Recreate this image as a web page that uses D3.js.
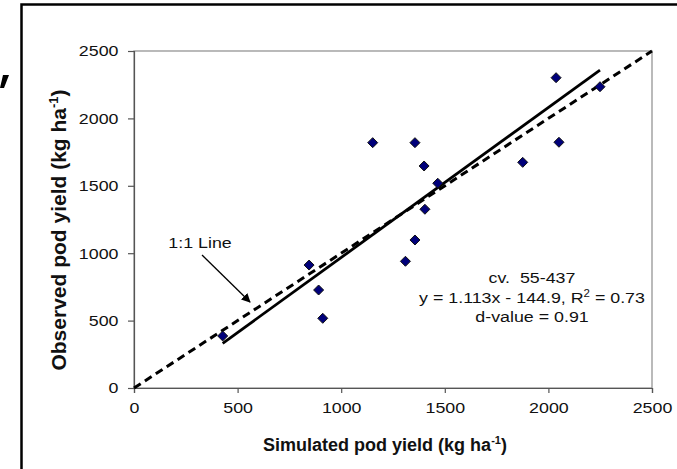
<!DOCTYPE html>
<meta charset="utf-8">
<script src="https://d3js.org/d3.v7.min.js"></script>
<style>
  body { margin: 0; background: #fff; }
  text { font-family: "Liberation Sans", Arial, sans-serif; white-space: pre; }
</style>
<div id="page"></div>
<script>

  // Data (simulated vs observed pod yield, kg/ha)
  var simulated = [428, 845, 891, 911, 1152, 1310, 1356, 1356, 1400, 1404, 1466, 1876, 2037, 2051, 2249];
  var observed  = [386, 912, 727, 517, 1820, 940, 1820, 1098, 1647, 1326, 1519, 1674, 2302, 1823, 2235];
  var tickValues = [0, 500, 1000, 1500, 2000, 2500];
  var slope = 1.113, intercept = -144.9;
  var fitRange = [428, 2249];
  var oneToOne = [0, 2500];

  var W = 677, H = 469;
  var margin = { top: 51, right: 25, bottom: 81, left: 134 };
  var stretch = 1.15;   // the picture's text is a bit wide

  var svg = d3.select("#page").append("svg")
    .attr("width", W)
    .attr("height", H);

  // outer frame (only top and left edges show)
  svg.append("path")
    .attr("d", "M21.5," + H + "V4.5H" + W)
    .attr("fill", "none")
    .attr("stroke", "#000")
    .attr("stroke-width", 2.5);

  // clipped glyph bit at the left edge
  svg.append("path")
    .attr("d", "M3,75 L9,75 L4,88 L0,88 Z")
    .attr("fill", "#000");

  var x = d3.scaleLinear().domain([0, 2500]).range([margin.left, W - margin.right]);
  var y = d3.scaleLinear().domain([0, 2500]).range([H - margin.bottom, margin.top]);

  // plot box
  svg.append("rect")
    .attr("x", x(0)).attr("y", y(2500))
    .attr("width", x(2500) - x(0))
    .attr("height", y(0) - y(2500))
    .attr("fill", "none")
    .attr("stroke", "#8c8c8c")
    .attr("stroke-width", 1.2);

  // axes
  var xAxis = svg.append("g")
    .attr("transform", "translate(0," + y(0) + ")")
    .call(d3.axisBottom(x).tickValues(tickValues).tickFormat(d3.format("d"))
      .tickSizeOuter(0).tickSize(5).tickPadding(9));
  var yAxis = svg.append("g")
    .attr("transform", "translate(" + x(0) + ",0)")
    .call(d3.axisLeft(y).tickValues(tickValues).tickFormat(d3.format("d"))
      .tickSizeOuter(0).tickSize(6).tickPadding(7.5));

  [xAxis, yAxis].forEach(function (g) {
    g.select(".domain").attr("stroke", "#555").attr("stroke-width", 1.2);
    g.selectAll(".tick line").attr("stroke", "#555").attr("stroke-width", 1.2);
    g.selectAll(".tick text")
      .attr("font-size", 15.5)
      .attr("font-family", "Liberation Sans, Arial, sans-serif")
      .attr("fill", "#111")
      .attr("transform", "scale(" + stretch + ",1)");
  });

  // 1:1 line
  svg.append("line")
    .attr("x1", x(oneToOne[0])).attr("y1", y(oneToOne[0]))
    .attr("x2", x(oneToOne[1])).attr("y2", y(oneToOne[1]))
    .attr("stroke", "#000")
    .attr("stroke-width", 3)
    .attr("stroke-dasharray", "8,5");

  // regression line
  svg.append("line")
    .attr("x1", x(fitRange[0])).attr("y1", y(slope * fitRange[0] + intercept))
    .attr("x2", x(fitRange[1])).attr("y2", y(slope * fitRange[1] + intercept))
    .attr("stroke", "#000")
    .attr("stroke-width", 2.8);

  // points
  var pts = simulated.map(function (s, i) { return { s: s, o: observed[i] }; });
  svg.selectAll("path.pt")
    .data(pts)
    .enter()
    .append("path")
    .attr("class", "pt")
    .attr("d", "M0,-5L5,0L0,5L-5,0Z")
    .attr("transform", function (d) { return "translate(" + x(d.s) + "," + y(d.o) + ")"; })
    .attr("fill", "#00007a")
    .attr("stroke", "#111")
    .attr("stroke-width", 1);

  // helper: stretched label centred at (cx, baseline)
  function label(cx, by, size) {
    return svg.append("g")
      .attr("transform", "translate(" + cx + "," + by + ") scale(" + stretch + ",1)")
      .append("text")
      .attr("text-anchor", "middle")
      .attr("font-size", size)
      .attr("fill", "#111");
  }

  // 1:1 label with arrow
  svg.append("defs").append("marker")
    .attr("id", "arrow")
    .attr("viewBox", "0 0 10 10")
    .attr("refX", 9).attr("refY", 5)
    .attr("markerWidth", 7).attr("markerHeight", 7)
    .attr("orient", "auto")
    .append("path")
    .attr("d", "M0,0L10,5L0,10Z")
    .attr("fill", "#000");

  label(200, 248, 15.5).text("1:1 Line");
  svg.append("line")
    .attr("x1", 202).attr("y1", 255)
    .attr("x2", 250).attr("y2", 302)
    .attr("stroke", "#000")
    .attr("stroke-width", 1.3)
    .attr("marker-end", "url(#arrow)");

  // equation box
  label(532, 283, 15.5).text("cv.  55-437");
  var l2 = label(532, 303, 15.5);
  l2.append("tspan").text("y = 1.113x - 144.9, R");
  l2.append("tspan").attr("font-size", 10).attr("dy", -6).text("2");
  l2.append("tspan").attr("dy", 6).text(" = 0.73");
  label(532, 322, 15.5).text("d-value = 0.91");

  // axis titles
  var xt = svg.append("text")
    .attr("x", 385).attr("y", 451)
    .attr("text-anchor", "middle")
    .attr("font-size", 18)
    .attr("font-weight", "bold")
    .attr("fill", "#111");
  xt.append("tspan").text("Simulated pod yield (kg ha");
  xt.append("tspan").attr("font-size", 11).attr("dy", -7).text("-1");
  xt.append("tspan").attr("dy", 7).text(")");

  var yt = svg.append("text")
    .attr("transform", "translate(66,230) rotate(-90)")
    .attr("text-anchor", "middle")
    .attr("font-size", 21)
    .attr("font-weight", "bold")
    .attr("fill", "#111");
  yt.append("tspan").text("Observed pod yield (kg ha");
  yt.append("tspan").attr("font-size", 13).attr("dy", -8).text("-1");
  yt.append("tspan").attr("dy", 8).text(")");

</script>
